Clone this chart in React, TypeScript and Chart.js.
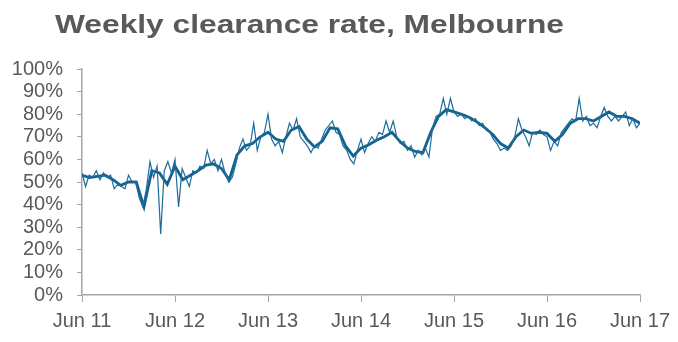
import React, { useEffect, useRef } from "react";
import { Chart, registerables } from "chart.js";

Chart.register(...registerables);

const titleText = "Weekly clearance rate, Melbourne";
const xTickLabels = ["Jun 11", "Jun 12", "Jun 13", "Jun 14", "Jun 15", "Jun 16", "Jun 17"];
const yTicks = [0, 10, 20, 30, 40, 50, 60, 70, 80, 90, 100];

// weekly clearance rate, sampled fortnightly from Jun 2011 (values in %)
const thinStepYears = 1 / 26;
const weeklyRate = [
  54, 48, 53, 52, 55, 51, 54, 52, 53, 47,
  49, 48, 47, 53, 50, 50, 43, 39, 47, 59,
  52, 57, 27, 55, 59, 54, 60, 39, 56, 52,
  48, 55, 54, 57, 56, 64, 58, 60, 55, 60,
  54, 50, 52, 58, 65, 69, 64, 66, 76, 64,
  70, 72, 80, 69, 66, 68, 63, 70, 76, 73,
  78, 70, 68, 66, 63, 66, 65, 69, 73, 75,
  77, 72, 71, 66, 64, 60, 58, 64, 69, 63,
  67, 70, 68, 72, 71, 77, 72, 77, 70, 67,
  68, 64, 66, 61, 64, 62, 65, 61, 74, 79,
  80, 87, 80, 87, 81, 79, 80, 78, 79, 77,
  78, 75, 76, 73, 72, 69, 67, 64, 65, 64,
  66, 70, 78, 73, 70, 66, 72, 71, 73, 71,
  70, 64, 68, 66, 72, 74, 76, 78, 77, 87,
  77, 79, 75, 76, 74, 79, 83, 79, 77, 79,
  77, 79, 81, 75, 78, 74, 76,
];

// smoothed (4-week average) clearance rate, sampled monthly from Jun 2011 (values in %)
const smoothStepYears = 1 / 12;
const smoothedRate = [
  53, 52, 52.5, 53, 51, 48.5, 50, 50, 39, 55,
  54, 49, 57, 51, 53, 55, 57.5, 58, 56, 51,
  62, 66, 67, 70, 72, 69, 68, 73, 74.5, 69,
  65.5, 68, 74, 73.5, 66, 61.5, 65, 66.5, 68.5, 70,
  72, 68, 65, 63.5, 63, 72, 79, 82, 81, 80,
  78.5, 76.5, 74, 71, 67, 65, 70, 73, 71.5, 72,
  71.5, 68, 71, 76, 78, 78, 77, 79, 81, 79,
  79, 78, 76,
];

const lineColor = "#1d6c9b";
const smoothColor = "#15628f";
const textColor = "#595959";
const axisColor = "#a6a6a6";
const fontFamily = '"Liberation Sans", Arial, sans-serif';

export default function App() {
  const canvasRef = useRef<HTMLCanvasElement | null>(null);

  useEffect(() => {
    if (!canvasRef.current) return;
    const thinData = weeklyRate.map((v, i) => ({ x: i * thinStepYears, y: v }));
    const smoothData = smoothedRate.map((v, i) => ({ x: i * smoothStepYears, y: v }));
    const chart = new Chart(canvasRef.current, {
      type: "line",
      data: {
        datasets: [
          {
            label: "Weekly",
            data: thinData,
            borderColor: lineColor,
            borderWidth: 1.2,
            pointRadius: 0,
            tension: 0,
            fill: false,
          },
          {
            label: "Smoothed",
            data: smoothData,
            borderColor: smoothColor,
            borderWidth: 2.8,
            pointRadius: 0,
            tension: 0,
            fill: false,
          },
        ],
      },
      options: {
        responsive: false,
        animation: false,
        layout: { padding: { left: 0, right: 38, top: 69, bottom: 0 } },
        plugins: {
          legend: { display: false },
          tooltip: { enabled: false },
          title: { display: false },
        },
        scales: {
          x: {
            type: "linear",
            min: 0,
            max: xTickLabels.length - 1,
            afterBuildTicks: (scale: any) => {
              scale.ticks = xTickLabels.map((_, i) => ({ value: i }));
            },
            afterFit: (scale: any) => {
              scale.height = 47;
            },
            grid: {
              drawOnChartArea: false,
              drawTicks: true,
              tickLength: 7,
              color: axisColor,
              lineWidth: 1,
            },
            border: { color: axisColor, width: 1.5 },
            ticks: {
              color: textColor,
              font: { family: fontFamily, size: 20 },
              padding: 7,
              maxRotation: 0,
              autoSkip: false,
              callback: (value: any) => xTickLabels[Math.round(Number(value))] ?? "",
            },
          },
          y: {
            type: "linear",
            min: 0,
            max: 100,
            afterBuildTicks: (scale: any) => {
              scale.ticks = yTicks.map((v) => ({ value: v }));
            },
            afterFit: (scale: any) => {
              scale.width = 82;
            },
            grid: {
              drawOnChartArea: false,
              drawTicks: true,
              tickLength: 5,
              color: axisColor,
              lineWidth: 1,
            },
            border: { color: axisColor, width: 1.5 },
            ticks: {
              color: textColor,
              font: { family: fontFamily, size: 20 },
              padding: 14,
              autoSkip: false,
              callback: (value: any) => `${value}%`,
            },
          },
        },
      },
    });
    return () => chart.destroy();
  }, []);

  return (
    <div style={{ position: "fixed", left: 0, top: 0, width: 678, height: 342, background: "#fff" }}>
      <canvas ref={canvasRef} width={678} height={342} style={{ position: "absolute", left: 0, top: 0 }} />
      <div
        style={{
          position: "absolute",
          left: 55,
          top: 8,
          fontFamily,
          fontWeight: "bold",
          fontSize: 26,
          lineHeight: "32px",
          color: textColor,
          whiteSpace: "nowrap",
          transform: "scaleX(1.22)",
          transformOrigin: "left center",
        }}
      >
        {titleText}
      </div>
    </div>
  );
}
